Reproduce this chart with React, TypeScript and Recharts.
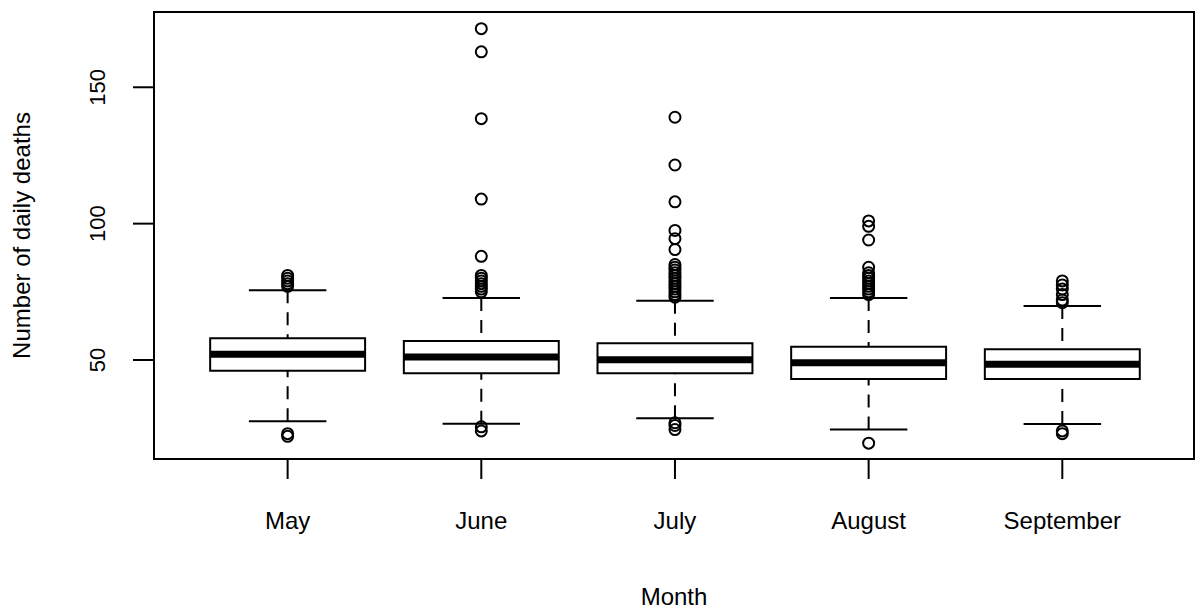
import {
  ReferenceArea,
  ReferenceLine,
  Scatter,
  ScatterChart,
  XAxis,
  YAxis,
} from 'recharts';

const MONTHS = ['May', 'June', 'July', 'August', 'September'];

// five-number summaries
const LOWER_WHISKER = [27.5, 26.6, 28.6, 24.5, 26.5];
const Q1 = [46.1, 45.1, 45.1, 43.0, 43.0];
const MEDIAN = [52.1, 51.1, 50.1, 49.0, 48.4];
const Q3 = [58.0, 57.0, 56.1, 54.9, 53.9];
const UPPER_WHISKER = [75.6, 72.7, 71.7, 72.7, 69.8];

const MAY_OUTLIERS = [81, 80, 79, 78, 77, 23, 22];
const JUNE_OUTLIERS = [171.5, 163, 138.5, 109, 88, 81, 80, 79, 78, 77, 76, 75, 25.5, 24];
const JULY_OUTLIERS = [
  139, 121.5, 108, 97.5, 94.5, 90.5, 85, 84, 83, 82, 81, 80, 79, 78, 77, 76, 75, 74, 73, 27, 26, 24.5,
];
const AUGUST_OUTLIERS = [101, 99, 94, 84, 82, 81, 80, 79, 78, 77, 76, 75, 74, 19.5];
const SEPTEMBER_OUTLIERS = [79, 77.5, 76, 74, 72, 71, 24, 23];

const Y_TICKS = [50, 100, 150];

const OUTLIERS = [MAY_OUTLIERS, JUNE_OUTLIERS, JULY_OUTLIERS, AUGUST_OUTLIERS, SEPTEMBER_OUTLIERS];

const X_DOMAIN: [number, number] = [0.31, 5.68];
const Y_DOMAIN: [number, number] = [13.7, 177.6];
const BOX_HALF = 0.4;
const CAP_HALF = 0.2;
const FONT = '"Liberation Sans", Arial, sans-serif';
const INK = '#000';

const outlierPoints = OUTLIERS.flatMap((values, i) => values.map((y) => ({ x: i + 1, y })));

function OutlierDot(props: any) {
  const { cx, cy } = props;
  if (cx == null || cy == null) return null;
  return <circle cx={cx} cy={cy} r={5.5} fill="none" stroke={INK} strokeWidth={2} />;
}

function MonthTick(props: any) {
  const { x, y, payload } = props;
  return (
    <text x={x} y={y + 48} textAnchor="middle" fontFamily={FONT} fontSize={24} fill={INK}>
      {MONTHS[payload.value - 1]}
    </text>
  );
}

function CountTick(props: any) {
  const { x, y, payload } = props;
  const bx = x - 26;
  return (
    <text
      x={bx}
      y={y}
      transform={`rotate(-90, ${bx}, ${y})`}
      textAnchor="middle"
      fontFamily={FONT}
      fontSize={22}
      fill={INK}
    >
      {payload.value}
    </text>
  );
}

export default function App() {
  return (
    <div style={{ position: 'absolute', left: 0, top: 0, width: 1195, height: 612, background: '#fff' }}>
      <ScatterChart width={1195} height={612} margin={{ top: 12, right: 1, bottom: 0, left: 0 }}>
        <XAxis
          type="number"
          dataKey="x"
          domain={X_DOMAIN}
          allowDataOverflow
          ticks={[1, 2, 3, 4, 5]}
          height={153}
          axisLine={false}
          tickSize={20}
          tickLine={{ stroke: INK, strokeWidth: 2 }}
          tick={<MonthTick />}
          label={{
            content: (p: any) => {
              const vb = p.viewBox;
              return (
                <text
                  x={vb.x + vb.width / 2}
                  y={vb.y + 146}
                  textAnchor="middle"
                  fontFamily={FONT}
                  fontSize={24}
                  fill={INK}
                >
                  Month
                </text>
              );
            },
          }}
        />
        <YAxis
          type="number"
          dataKey="y"
          domain={Y_DOMAIN}
          allowDataOverflow
          ticks={Y_TICKS}
          width={154}
          axisLine={false}
          tickSize={21}
          tickLine={{ stroke: INK, strokeWidth: 2 }}
          tick={<CountTick />}
          label={{
            content: (p: any) => {
              const vb = p.viewBox;
              const lx = vb.x + 29.5;
              const ly = vb.y + vb.height / 2;
              return (
                <text
                  x={lx}
                  y={ly}
                  transform={`rotate(-90, ${lx}, ${ly})`}
                  textAnchor="middle"
                  fontFamily={FONT}
                  fontSize={24}
                  fill={INK}
                >
                  Number of daily deaths
                </text>
              );
            },
          }}
        />

        <ReferenceArea
          x1={X_DOMAIN[0]}
          x2={X_DOMAIN[1]}
          y1={Y_DOMAIN[0]}
          y2={Y_DOMAIN[1]}
          fill="none"
          stroke={INK}
          strokeWidth={2}
          ifOverflow="visible"
        />

        {MONTHS.map((month, i) => {
          const x = i + 1;
          return [
            <ReferenceArea
              key={`box-${month}`}
              x1={x - BOX_HALF}
              x2={x + BOX_HALF}
              y1={Q1[i]}
              y2={Q3[i]}
              fill="none"
              stroke={INK}
              strokeWidth={2}
              ifOverflow="visible"
            />,
            <ReferenceLine
              key={`med-${month}`}
              segment={[
                { x: x - BOX_HALF, y: MEDIAN[i] },
                { x: x + BOX_HALF, y: MEDIAN[i] },
              ]}
              stroke={INK}
              strokeWidth={7}
              ifOverflow="visible"
            />,
            <ReferenceLine
              key={`lw-${month}`}
              segment={[
                { x, y: LOWER_WHISKER[i] },
                { x, y: Q1[i] },
              ]}
              stroke={INK}
              strokeWidth={2}
              strokeDasharray="13 9"
              ifOverflow="visible"
            />,
            <ReferenceLine
              key={`uw-${month}`}
              segment={[
                { x, y: UPPER_WHISKER[i] },
                { x, y: Q3[i] },
              ]}
              stroke={INK}
              strokeWidth={2}
              strokeDasharray="13 9"
              ifOverflow="visible"
            />,
            <ReferenceLine
              key={`lc-${month}`}
              segment={[
                { x: x - CAP_HALF, y: LOWER_WHISKER[i] },
                { x: x + CAP_HALF, y: LOWER_WHISKER[i] },
              ]}
              stroke={INK}
              strokeWidth={2}
              ifOverflow="visible"
            />,
            <ReferenceLine
              key={`uc-${month}`}
              segment={[
                { x: x - CAP_HALF, y: UPPER_WHISKER[i] },
                { x: x + CAP_HALF, y: UPPER_WHISKER[i] },
              ]}
              stroke={INK}
              strokeWidth={2}
              ifOverflow="visible"
            />,
          ];
        })}

        <Scatter data={outlierPoints} dataKey="y" shape={<OutlierDot />} isAnimationActive={false} />
      </ScatterChart>
    </div>
  );
}
